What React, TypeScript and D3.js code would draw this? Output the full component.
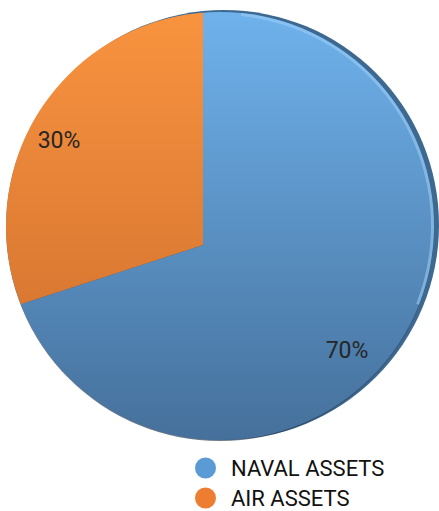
import * as d3 from "d3";

const categories = ["NAVAL ASSETS", "AIR ASSETS"];
const values = [70, 30];
const labels = ["70%", "30%"];
const topColors = ["#6fb2ec", "#f8933f"];
const bottomColors = ["#45709b", "#cc6c2c"];
const legendColors = ["#5b9bd5", "#ed7d31"];

const W = 439;
const H = 511;

// face of the tilted pie and the apex where the slices meet
const face = { cx: 220, cy: 226, r: 214 };
const apex = { x: 203, y: 245 };

const pie = d3.pie<number>().sort(null).value((d) => d);
const slices = pie(values);

const sliceArc = d3
  .arc<d3.PieArcDatum<number>>()
  .innerRadius(0)
  .outerRadius(400);

const labelArc = d3
  .arc<d3.PieArcDatum<number>>()
  .innerRadius(178)
  .outerRadius(178);

const highlight = d3
  .arc()
  .innerRadius(face.r - 3)
  .outerRadius(face.r)
  .startAngle(0.1)
  .endAngle(Math.PI * 0.62);

export default function App() {
  return (
    <svg
      width={W}
      height={H}
      style={{ position: "absolute", left: 0, top: 0 }}
      fontFamily="Roboto, sans-serif"
    >
      <defs>
        <clipPath id="faceClip">
          <circle cx={face.cx - apex.x} cy={face.cy - apex.y} r={face.r} />
        </clipPath>
        {categories.map((c, i) => (
          <linearGradient
            key={c}
            id={"g" + i}
            gradientUnits="userSpaceOnUse"
            x1={0}
            y1={face.cy - face.r - apex.y}
            x2={0}
            y2={face.cy + face.r - apex.y}
          >
            <stop offset="0%" stopColor={topColors[i]} />
            <stop offset="100%" stopColor={bottomColors[i]} />
          </linearGradient>
        ))}
      </defs>

      {/* side rim of the 3D pie */}
      <circle cx={face.cx + 4} cy={face.cy - 1} r={face.r + 1} fill="#3d6890" />
      <circle
        cx={face.cx}
        cy={face.cy + 1}
        r={face.r}
        fill="#2d3f52"
        opacity={0.7}
      />

      <g transform={`translate(${apex.x},${apex.y})`} clipPath="url(#faceClip)">
        {slices.map((s, i) => (
          <path
            key={categories[i]}
            d={sliceArc(s) as string}
            fill={`url(#g${i})`}
          />
        ))}
      </g>

      <path
        d={highlight(null as any) as string}
        transform={`translate(${face.cx},${face.cy})`}
        fill="#9fd0f7"
        opacity={0.55}
      />

      {slices.map((s, i) => {
        const [x, y] = labelArc.centroid(s);
        return (
          <text
            key={labels[i]}
            x={apex.x + x}
            y={apex.y + y + 8}
            textAnchor="middle"
            fontSize={23}
            fill="#262626"
          >
            {labels[i]}
          </text>
        );
      })}

      {categories.map((c, i) => (
        <g key={c} transform={`translate(205.5,${468 + i * 30})`}>
          <circle r={10.5} fill={legendColors[i]} />
          <text x={25.5} y={8} fontSize={22} fill="#111">
            {c}
          </text>
        </g>
      ))}
    </svg>
  );
}
